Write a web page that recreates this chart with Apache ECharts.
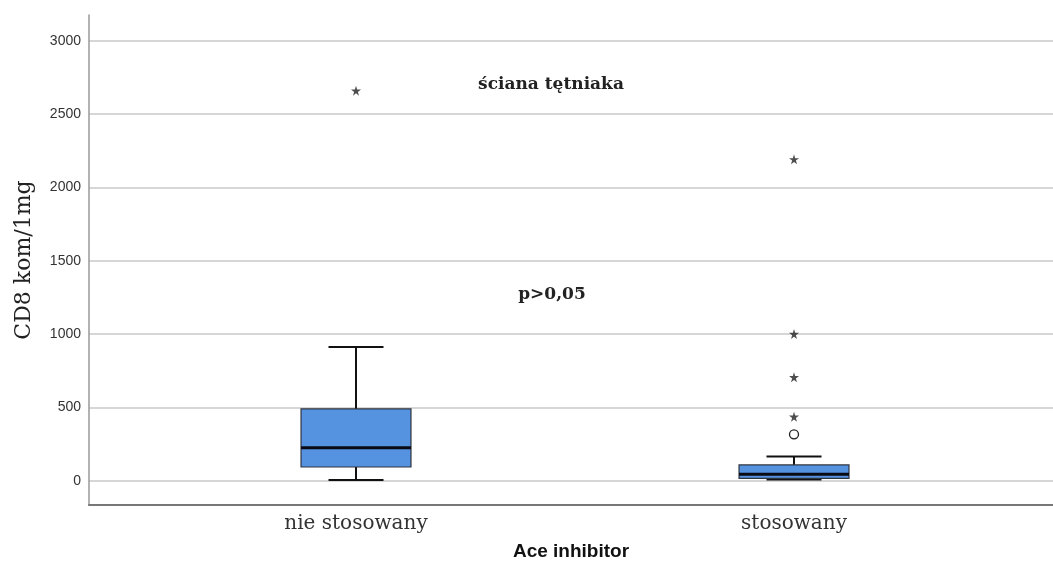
<!DOCTYPE html>
<html>
<head>
<meta charset="utf-8">
<script src="https://cdn.jsdelivr.net/npm/echarts@6/dist/echarts.min.js"></script>
<style>
html,body{margin:0;padding:0;background:#fff;}
#chart{width:1053px;height:570px;}
</style>
</head>
<body>
<div id="chart"></div>
<script>
// ---- data ----
const categories = ['nie stosowany', 'stosowany'];
const whiskerLow  = [5, 8];
const q1          = [93, 16];
const median      = [225, 43];
const q3          = [489, 107];
const whiskerHigh = [911, 164];
// extreme outliers (stars): [categoryIndex, value]
const extremeOutliers = [[0, 2659], [1, 2191], [1, 1000], [1, 705], [1, 436]];
// outliers (circles)
const outliers = [[1, 316]];
const yTicks = [0, 500, 1000, 1500, 2000, 2500, 3000];

// ---- build ----
const boxData = categories.map((c, i) => [i + 1, whiskerLow[i], q1[i], median[i], q3[i], whiskerHigh[i]]);
const starData = extremeOutliers.map(d => [d[0] + 1, d[1]]);
const circleData = outliers.map(d => [d[0] + 1, d[1]]);
const starPath = 'path://M50,0 L61,35 L98,35 L68,57 L79,91 L50,70 L21,91 L32,57 L2,35 L39,35 Z';

function renderBox(params, api) {
  const x = api.value(0);
  const lo = api.coord([x, api.value(1)]);
  const a = api.coord([x, api.value(2)]);
  const m = api.coord([x, api.value(3)]);
  const b = api.coord([x, api.value(4)]);
  const hi = api.coord([x, api.value(5)]);
  const boxW = api.size([0.251, 0])[0];
  const capW = api.size([0.1256, 0])[0];
  const cx = lo[0];
  const lineStyle = {stroke: '#111', lineWidth: 2};
  return {
    type: 'group',
    children: [
      {type: 'line', shape: {x1: cx, y1: hi[1], x2: cx, y2: b[1]}, style: lineStyle},
      {type: 'line', shape: {x1: cx, y1: lo[1], x2: cx, y2: a[1]}, style: lineStyle},
      {type: 'line', shape: {x1: cx - capW / 2, y1: hi[1], x2: cx + capW / 2, y2: hi[1]}, style: lineStyle},
      {type: 'line', shape: {x1: cx - capW / 2, y1: lo[1], x2: cx + capW / 2, y2: lo[1]}, style: lineStyle},
      {type: 'rect', shape: {x: cx - boxW / 2, y: b[1], width: boxW, height: a[1] - b[1]},
        style: {fill: '#5592e0', stroke: '#2f3540', lineWidth: 1.2}},
      {type: 'line', shape: {x1: cx - boxW / 2, y1: m[1], x2: cx + boxW / 2, y2: m[1]},
        style: {stroke: '#0a0a14', lineWidth: 3}}
    ]
  };
}

const chart = echarts.init(document.getElementById('chart'), null, {renderer: 'canvas'});
chart.setOption({
  animation: false,
  backgroundColor: '#fff',
  grid: {left: 89, right: 0, top: 15, bottom: 65, containLabel: false},
  title: [
    {text: 'ściana tętniaka', left: 546, top: 71, textAlign: 'center',
      textStyle: {fontFamily: 'DejaVu Serif', fontWeight: 'bold', fontSize: 17, color: '#222'}},
    {text: 'p>0,05', left: 547, top: 281, textAlign: 'center',
      textStyle: {fontFamily: 'DejaVu Serif', fontWeight: 'bold', fontSize: 17, color: '#222'}}
  ],
  xAxis: {
    type: 'value',
    min: 0.3904,
    max: 2.5913,
    name: 'Ace inhibitor',
    nameLocation: 'middle',
    nameGap: 37,
    nameTextStyle: {fontFamily: 'Liberation Sans', fontWeight: 'bold', fontSize: 19, color: '#111'},
    axisLine: {show: true, onZero: false, lineStyle: {color: '#777', width: 2}},
    axisTick: {show: false, customValues: [1, 2]},
    splitLine: {show: false},
    axisLabel: {
      customValues: [1, 2],
      formatter: v => categories[Math.round(v) - 1],
      fontFamily: 'DejaVu Serif', fontSize: 20, color: '#333', margin: 9
    }
  },
  yAxis: {
    type: 'value',
    min: -166,
    max: 3175,
    name: 'CD8 kom/1mg',
    nameLocation: 'middle',
    nameGap: 54,
    nameTextStyle: {fontFamily: 'DejaVu Serif', fontSize: 22, color: '#222'},
    axisLine: {show: true, onZero: false, lineStyle: {color: '#999', width: 1.5}},
    axisTick: {show: false, customValues: yTicks},
    axisLabel: {customValues: yTicks, formatter: v => String(v),
      fontFamily: 'Liberation Sans', fontSize: 14, color: '#333', margin: 8},
    splitLine: {show: true, lineStyle: {color: '#c8c8c8', width: 1.5}}
  },
  series: [
    {
      type: 'custom',
      renderItem: renderBox,
      data: boxData,
      encode: {x: 0, y: [1, 2, 3, 4, 5]},
      z: 3
    },
    {
      type: 'scatter',
      data: starData,
      symbol: starPath,
      symbolSize: 10,
      itemStyle: {color: '#222'},
      z: 4
    },
    {
      type: 'scatter',
      data: circleData,
      symbol: 'circle',
      symbolSize: 9,
      itemStyle: {color: '#ffffff', borderColor: '#222222', borderWidth: 1.3, opacity: 1},
      z: 4
    }
  ]
});
</script>
</body>
</html>
